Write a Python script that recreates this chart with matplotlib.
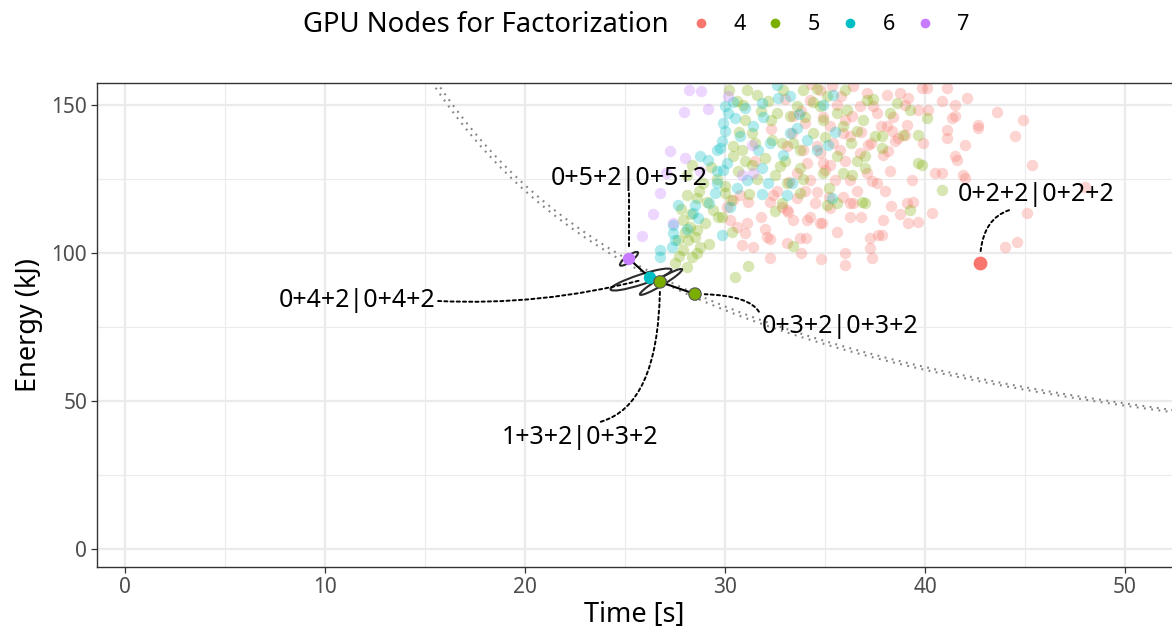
import matplotlib
matplotlib.use("Agg")
import matplotlib.pyplot as plt
from matplotlib.patches import Ellipse
from matplotlib.lines import Line2D
from matplotlib.transforms import Affine2D, ScaledTranslation
import numpy as np

plt.rcParams['font.family'] = ['Noto Sans', 'DejaVu Sans']

# all measured runs, per number of GPU nodes used for factorization
t4 = [33.1, 33.35, 33.9, 34.6, 34.75, 34.1, 33.6, 34.25, 34.9, 35.25, 35.9, 36.25, 36.35, 36.75,
      37.1, 36.4, 35.35, 34.75, 34.25, 33.4, 34.0, 35.25, 35.4, 35.75, 36.25, 35.5, 37.6, 37.35,
      36.75, 37.15, 37.6, 37.4, 30.4, 30.1, 30.75, 31.15, 30.25, 30.6, 31.1, 31.0, 30.85, 32.1,
      32.25, 32.25, 32.4, 32.25, 32.85, 33.1, 33.15, 33.4, 33.6, 33.1, 33.75, 34.05, 34.1, 34.25,
      34.5, 34.75, 34.85, 34.6, 35.25, 35.9, 36.25, 36.4, 36.25, 37.25, 37.25, 37.35, 36.0, 36.0,
      37.65, 38.1, 38.75, 39.15, 39.0, 39.65, 40.15, 40.85, 41.1, 40.1, 39.85, 41.5, 42.1, 41.5,
      41.35, 41.1, 41.1, 42.0, 42.65, 42.65, 43.6, 44.9, 44.5, 39.9, 38.1, 38.35, 38.5, 38.65,
      39.0, 39.1, 38.15, 37.9, 41.5, 41.6, 40.5, 40.85, 41.9, 42.0, 39.35, 38.25, 45.35, 37.9,
      37.85, 39.1, 39.4, 38.75, 39.15, 39.65, 40.35, 45.1, 44.0, 44.6, 48.0,
      33.0, 33.8, 34.9, 35.6, 36.0, 36.8, 37.3, 37.8, 38.4, 35.0, 36.0, 37.1, 38.0, 36.6, 35.2,
      34.0, 33.2, 32.6, 31.8, 32.0, 31.4, 33.8, 34.8, 35.6, 36.8, 38.3, 32.3, 31.5, 34.3, 35.8]
e4 = [136.1, 140.5, 134.8, 136.1, 133.8, 130.4, 127.0, 124.7, 130.4, 129.7, 140.5, 139.5, 146.3,
      149.7, 154.1, 156.4, 156.4, 155.1, 151.7, 146.3, 143.9, 142.9, 137.2, 134.8, 124.7, 124.7,
      123.6, 124.3, 133.8, 136.5, 147.3, 149.7, 117.9, 115.5, 119.6, 117.2, 111.1, 108.8, 110.1,
      106.8, 102.7, 105.4, 104.7, 98.3, 119.6, 117.2, 115.5, 114.5, 113.9, 111.1, 118.6, 103.4,
      105.1, 105.1, 111.1, 112.2, 116.9, 110.1, 110.1, 120.6, 115.2, 118.9, 116.9, 116.9, 112.2,
      105.1, 101.7, 98.3, 100.0, 95.9, 106.1, 153.4, 154.1, 152.4, 150.0, 148.3, 148.3, 151.4,
      155.7, 155.7, 155.7, 150.0, 152.4, 146.3, 145.6, 141.6, 138.9, 136.5, 143.2, 142.2, 147.6,
      144.9, 139.5, 137.2, 142.9, 141.2, 137.8, 138.9, 139.9, 143.2, 134.5, 133.1, 132.8, 131.4,
      127.0, 127.0, 126.4, 125.3, 124.7, 127.7, 129.7, 111.1, 106.1, 116.9, 117.2, 113.2, 110.1,
      110.5, 113.5, 113.5, 102.0, 103.7, 122.3,
      152.0, 148.0, 146.0, 150.0, 145.0, 141.0, 137.0, 143.0, 146.0, 128.0, 131.0, 127.0, 121.0,
      121.0, 119.0, 121.0, 124.0, 121.0, 112.0, 108.0, 102.0, 100.0, 98.0, 107.0, 112.0, 116.0,
      142.0, 131.0, 157.0, 153.0]

t5 = [28.1, 28.6, 29.1, 29.4, 29.65, 27.9, 28.25, 28.6, 28.0, 27.65, 28.15, 28.75, 27.9, 28.35,
      27.5, 28.1, 28.5, 28.35, 28.1, 28.9, 31.1, 30.6, 31.6, 32.15, 32.6, 31.0, 31.35, 30.4, 30.85,
      30.4, 31.0, 31.35, 30.65, 30.0, 32.35, 32.85, 32.75, 32.5, 33.1, 33.75, 33.75, 33.6, 33.25,
      34.9, 34.75, 35.1, 35.6, 36.1, 36.6, 37.1, 37.5, 37.0, 36.6, 35.9, 36.35, 34.9, 37.0, 34.4,
      35.6, 33.9, 30.0, 30.35, 29.85, 32.85, 33.75, 35.1, 35.6, 36.85, 37.0, 33.4, 31.15, 30.5,
      38.6, 38.25, 39.25, 40.1, 39.65, 38.9, 39.65, 39.85, 37.85, 37.85, 39.25, 40.85,
      30.2, 30.9, 31.8, 32.3, 31.5, 30.7, 32.0, 33.0, 33.4, 34.0, 34.4, 35.0, 35.9, 36.3, 36.9,
      37.4, 32.9, 34.6, 36.0, 31.6, 33.9, 35.2, 30.3, 29.6, 29.3, 28.7, 29.0, 28.3, 27.8, 29.2,
      27.7, 28.6, 31.2, 32.5]
e5 = [119.6, 118.6, 117.2, 114.5, 112.2, 111.1, 108.8, 107.8, 107.1, 104.4, 104.4, 102.0, 101.0,
      98.6, 96.6, 95.3, 105.4, 129.7, 126.4, 123.6, 155.1, 151.4, 153.4, 151.4, 147.3, 144.9,
      140.5, 136.1, 134.8, 132.8, 131.1, 129.7, 127.7, 122.6, 138.2, 137.2, 129.4, 126.4, 123.6,
      128.7, 134.8, 149.7, 146.3, 144.9, 149.7, 153.0, 147.3, 148.3, 141.2, 151.7, 139.5, 132.8,
      131.1, 127.0, 126.4, 127.0, 128.7, 140.5, 132.8, 155.1, 120.3, 107.1, 112.2, 116.9, 120.3,
      116.2, 116.9, 117.2, 116.9, 102.4, 95.6, 91.9, 150.7, 147.3, 148.3, 145.6, 139.9, 139.9,
      130.4, 129.7, 139.5, 135.5, 114.5, 121.3,
      155.0, 150.0, 148.0, 145.0, 137.0, 141.0, 132.0, 131.0, 137.0, 146.0, 151.0, 139.0, 143.0,
      137.0, 145.0, 152.0, 155.0, 155.5, 155.0, 125.0, 125.0, 122.0, 118.0, 125.0, 129.0, 121.0,
      110.0, 113.0, 115.0, 103.0, 99.0, 100.0, 120.0, 114.0]

t6 = [27.65, 28.5, 28.4, 28.65, 27.4, 27.4, 27.5, 26.75, 26.75, 27.35, 29.5, 28.75, 29.15, 29.6,
      29.6, 29.6, 30.0, 30.15, 30.5, 30.0, 29.85, 29.75, 30.75, 31.4, 31.85, 32.65, 32.6, 31.65,
      32.25, 30.1, 29.9, 31.85, 32.15, 31.1, 33.25, 33.6, 34.6, 35.15, 33.35, 35.4, 33.25, 31.85,
      30.25, 29.85, 33.1, 35.35,
      31.0, 31.9, 33.7, 34.9, 30.4, 29.9, 32.9, 34.1, 35.5, 30.6, 29.2, 28.1]
e6 = [116.2, 116.2, 113.5, 111.8, 109.5, 106.8, 104.4, 101.0, 98.6, 102.0, 120.3, 132.8, 131.4,
      134.8, 127.7, 123.6, 149.7, 147.3, 145.6, 141.2, 137.8, 135.5, 139.5, 142.9, 150.7, 152.4,
      156.8, 134.8, 137.2, 130.4, 128.0, 128.7, 123.6, 124.7, 140.5, 142.2, 134.8, 136.5, 123.6,
      153.4, 153.0, 119.9, 115.5, 106.1, 119.6, 118.6,
      149.0, 146.0, 147.0, 150.0, 151.0, 144.0, 133.0, 138.0, 141.0, 122.0, 117.0, 108.0]

t7 = [28.2, 28.8, 27.95, 29.15, 27.25, 28.0, 28.75, 27.05, 26.75, 26.4, 25.85, 27.4, 30.15, 31.35,
      30.85, 31.4]
e7 = [155.1, 154.7, 147.6, 148.6, 134.5, 132.1, 127.7, 127.0, 120.3, 113.2, 105.7, 110.1, 153.0,
      136.5, 126.4, 127.0]

groups = ["4", "5", "6", "7"]
colors = ["#F8766D", "#7CAE00", "#00BFC4", "#C77CFF"]

# best configuration per node count (front) and labels
front_t = [25.2, 26.25, 26.75, 28.5]
front_e = [98.0, 91.6, 90.2, 86.1]
front_grp = [3, 2, 1, 1]
best4_t, best4_e = 42.75, 96.6

labels = ["0+5+2|0+5+2", "0+4+2|0+4+2", "1+3+2|0+3+2", "0+3+2|0+3+2", "0+2+2|0+2+2"]
label_pt = [(25.2, 98.0), (26.25, 91.6), (26.75, 90.2), (28.5, 86.1), (42.75, 96.6)]
label_pos = [(25.2, 125.3), (11.6, 83.8), (22.75, 37.8), (35.75, 75.0), (45.55, 119.6)]

# iso-power curves E = c / t
iso_c = [2420, 2458]

fig = plt.figure(figsize=(11.72, 6.31), dpi=100)
ax = fig.add_axes([97 / 1172, 64 / 631, 1075 / 1172, 484 / 631])

ax.set_xticks(np.arange(0, 51, 10))
ax.set_yticks([0, 50, 100, 150])
ax.set_xticks(np.arange(5, 56, 10), minor=True)
ax.set_yticks([25, 75, 125], minor=True)
ax.set_xlim(-1.4, 52.35)
ax.set_ylim(-6.1, 157.4)
ax.grid(which='major', color='#EBEBEB', linewidth=1.6, zorder=0)
ax.grid(which='minor', color='#EBEBEB', linewidth=0.8, zorder=0)
ax.set_axisbelow(True)
ax.tick_params(which='minor', length=0)
ax.tick_params(which='major', length=4, width=0.9, color='#333333',
               labelsize=15, labelcolor='#4D4D4D', pad=3)
for side in ['left', 'bottom', 'top']:
    ax.spines[side].set_color('#333333')
    ax.spines[side].set_linewidth(1.0)
ax.spines['right'].set_visible(False)

tt = np.linspace(13, 56, 400)
for c in iso_c:
    ax.plot(tt, c / tt, color='#858585', linewidth=1.5, linestyle=(0, (0.9, 2.6)), zorder=1)

for tx, ex, col in zip([t4, t5, t6, t7], [e4, e5, e6, e7], colors):
    ax.scatter(tx, ex, s=68, color=col, alpha=0.3, linewidths=0, zorder=2)

# connectors for labels
starts = [(0.5, 0.0), (1.0, 0.5), (0.5, 1.0), (0.0, 0.7), (0.45, 0.0)]
styles = ["arc3,rad=0", "arc3,rad=0.08", "angle3,angleA=0,angleB=90",
          "angle3,angleA=90,angleB=0", "angle3,angleA=0,angleB=90"]
for lab, pt, pos, rp, cs in zip(labels, label_pt, label_pos, starts, styles):
    ax.annotate(lab, xy=pt, xytext=pos, ha='center', va='center', fontsize=18,
                color='black', zorder=6,
                arrowprops=dict(arrowstyle='-', linestyle=(0, (1.6, 1.6)), linewidth=1.4,
                                color='black', relpos=rp, connectionstyle=cs,
                                shrinkA=0, shrinkB=7))

# uncertainty ellipses (pixel sizes) around front points
ell = [(25.2, 98.0, 22, 6, 36), (25.8, 91.0, 64, 10, 18), (26.8, 90.2, 49, 7, 31)]
for cx, cy, w, h, a in ell:
    tr = Affine2D() + ScaledTranslation(cx, cy, ax.transData)
    ax.add_patch(Ellipse((0, 0), w, h, angle=a, fill=False, edgecolor='#2B2B2B',
                         linewidth=1.5, transform=tr, zorder=4))

ax.plot(front_t, front_e, color='black', linewidth=1.5, zorder=4)
ax.scatter(front_t, front_e, s=80, c=[colors[g] for g in front_grp],
           edgecolors=['#555555' if g == 1 else 'none' for g in front_grp],
           linewidths=0.8, zorder=5)
ax.scatter([best4_t], [best4_e], s=80, color=colors[0], zorder=5)

ax.set_xlabel("Time [s]", fontsize=19.5, labelpad=2)
ax.set_ylabel("Energy (kJ)", fontsize=19.5, labelpad=6)

fig.text(303 / 1172, 1 - 25 / 631, "GPU Nodes for Factorization", fontsize=19.8,
         ha='left', va='center')
handles = [Line2D([], [], linestyle='none', marker='o', markersize=7,
                  markerfacecolor=c, markeredgecolor='none') for c in colors]
fig.legend(handles, groups, loc='center left', bbox_to_anchor=(690 / 1172, 1 - 25 / 631),
           ncol=4, frameon=False, fontsize=15.5, handlelength=1.0, handletextpad=1.0,
           columnspacing=0.9, borderaxespad=0, borderpad=0)

fig.savefig("out.png", dpi=100)
